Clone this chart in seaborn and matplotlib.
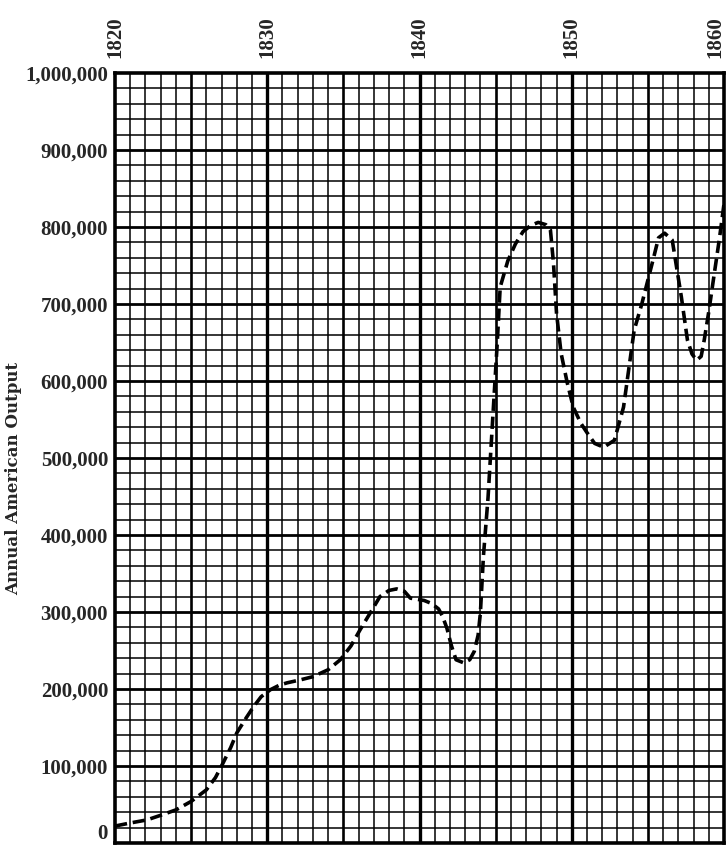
import numpy as np
import pandas as pd
import seaborn as sns
import matplotlib.pyplot as plt
import matplotlib.transforms as mtransforms

# values (year, annual output)
years = [1820.0, 1821.0, 1822.1, 1823.0, 1824.0, 1825.0, 1826.0, 1826.6, 1827.1, 1827.6,
         1828.0, 1828.6, 1829.1, 1829.6, 1830.2, 1830.8, 1831.3, 1832.2, 1833.0, 1834.0,
         1834.8, 1835.5, 1836.1, 1836.8, 1837.4, 1838.0, 1838.5, 1839.0, 1839.4, 1840.3,
         1840.8, 1841.25, 1841.5, 1841.8, 1842.1, 1842.4, 1842.9, 1843.3, 1843.6, 1843.85,
         1844.0, 1844.2, 1844.5, 1844.8, 1845.1, 1845.3, 1845.8, 1846.3, 1846.8, 1847.3,
         1847.8, 1848.3, 1848.6, 1848.8, 1849.0, 1849.3, 1849.7, 1850.1, 1850.6, 1851.0,
         1851.5, 1852.1, 1852.8, 1853.4, 1854.1, 1854.6, 1855.0, 1855.4, 1855.7, 1856.1,
         1856.6, 1857.2, 1857.6, 1857.9, 1858.2, 1858.5, 1858.7, 1859.0, 1859.3, 1859.7, 1860.0]
output = [22000, 26000, 30000, 36000, 43000, 54000, 69000, 85000, 104000, 124000,
          143000, 162000, 177000, 190000, 199000, 205000, 208000, 212000, 216000, 225000,
          238000, 256000, 277000, 300000, 320000, 328000, 330000, 327000, 318000, 315000,
          311000, 304000, 295000, 279000, 256000, 238000, 234000, 238000, 249000, 270000,
          299000, 373000, 448000, 548000, 647000, 722000, 756000, 778000, 794000, 802000,
          806000, 803000, 796000, 753000, 688000, 636000, 598000, 566000, 545000, 533000,
          519000, 514000, 523000, 566000, 666000, 700000, 731000, 762000, 786000, 792000,
          783000, 709000, 653000, 635000, 627000, 632000, 653000, 690000, 731000, 785000, 830000]

df = pd.DataFrame({"year": years, "output": output})

year_ticks = [1820, 1830, 1840, 1850, 1860]
output_ticks = [0, 100000, 200000, 300000, 400000, 500000, 600000, 700000, 800000, 900000, 1000000]
output_labels = ["0", "100,000", "200,000", "300,000", "400,000", "500,000",
                 "600,000", "700,000", "800,000", "900,000", "1,000,000"]

sns.set_theme(style="white")
plt.rcParams['font.family'] = ['Liberation Serif', 'DejaVu Serif']

fig = plt.figure(figsize=(7.27, 8.46), dpi=100)
ax = fig.add_axes([115 / 727, 3 / 846, 609 / 727, 770 / 846])

# graph paper grid
for yr in range(1821, 1860):
    lw = 1.9 if yr % 5 == 0 else 1.1
    ax.axvline(yr, color="black", lw=lw, zorder=1)
for v in range(20000, 1000000, 20000):
    lw = 2.0 if v % 100000 == 0 else 1.1
    ax.axhline(v, color="black", lw=lw, zorder=1)
for yr in [1830, 1840, 1850]:
    ax.axvline(yr, color="black", lw=2.4, zorder=1)

sns.lineplot(data=df, x="year", y="output", color="black", lw=2.6, ax=ax, zorder=3)
ax.lines[-1].set_dashes([3.4, 1.6])

ax.set_xlim(1820, 1860)
ax.set_ylim(0, 1000000)
ax.set_xticks(year_ticks)
ax.set_xticklabels([str(y) for y in year_ticks], rotation=90, fontsize=15, fontweight="bold")
ax.set_yticks(output_ticks)
ax.set_yticklabels(output_labels, fontsize=15, fontweight="bold")
ax.xaxis.tick_top()
ax.tick_params(axis="x", length=0, pad=11)
ax.tick_params(axis="y", length=0, pad=5)
ax.set_xlabel("")
ax.set_ylabel("Annual American Output", fontsize=12, fontweight="bold",
              family=["DejaVu Serif"])
ax.yaxis.set_label_coords(-0.152, 0.474)

# keep the edge labels inside the figure
last = ax.get_xticklabels()[-1]
last.set_transform(last.get_transform() + mtransforms.ScaledTranslation(-6 / 72, 0, fig.dpi_scale_trans))
zero = ax.get_yticklabels()[0]
zero.set_transform(zero.get_transform() + mtransforms.ScaledTranslation(0, 8 / 72, fig.dpi_scale_trans))

for s in ax.spines.values():
    s.set_visible(True)
    s.set_color("black")
    s.set_linewidth(2.6)

plt.savefig("out.png", dpi=100)
